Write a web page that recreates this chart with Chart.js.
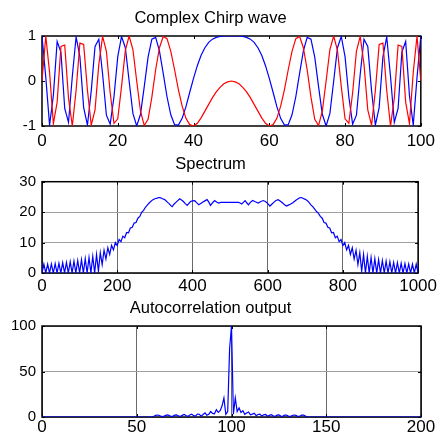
<!DOCTYPE html>
<html>
<head>
<meta charset="utf-8">
<script src="https://cdn.jsdelivr.net/npm/chart.js@4.4.1/dist/chart.umd.min.js"></script>
<style>
  html, body { margin: 0; padding: 0; background: #fff; }
  #wrap { position: relative; width: 440px; height: 438px; overflow: hidden; }
  .panel { position: absolute; left: 0; width: 440px; height: 146px; }
</style>
</head>
<body>
<div id="wrap">
  <div class="panel" style="top:0"><canvas id="chirp-chart" width="440" height="146"></canvas></div>
  <div class="panel" style="top:146px"><canvas id="spectrum-chart" width="440" height="146"></canvas></div>
  <div class="panel" style="top:292px"><canvas id="autocorr-chart" width="440" height="146"></canvas></div>
</div>
<script>
// --- data --------------------------------------------------------------

// chirp, one sample per unit, t = 0..100
const chirpReal = [
  1.00, 0.08, -0.98, -0.32, 0.88, 0.64, -0.61, -0.92, 0.10, 0.98,
  0.54, -0.59, -0.98, -0.22, 0.77, 0.93, 0.15, -0.76, -0.96, -0.35,
  0.54, 0.99, 0.74, 0.00, -0.72, -1.00, -0.74, -0.12, 0.53, 0.93,
  0.97, 0.67, 0.17, -0.35, -0.75, -0.97, -0.98, -0.83, -0.57, -0.25,
  0.06, 0.34, 0.57, 0.74, 0.86, 0.93, 0.97, 0.99, 1.00, 1.00,
  1.00,
  1.00, 1.00, 0.99, 0.97, 0.93, 0.86, 0.74, 0.57, 0.34, 0.06,
  -0.25, -0.57, -0.83, -0.98, -0.97, -0.75, -0.35, 0.17, 0.67, 0.97,
  0.93, 0.53, -0.12, -0.74, -1.00, -0.72, 0.00, 0.74, 0.99, 0.54,
  -0.35, -0.96, -0.76, 0.15, 0.93, 0.77, -0.22, -0.98, -0.59, 0.54,
  0.98, 0.10, -0.92, -0.61, 0.64, 0.88, -0.32, -0.98, 0.08, 1.00,
];
const chirpImag = [
  0.00, 1.00, 0.19, -0.95, -0.47, 0.77, 0.80, -0.38, -1.00, -0.21,
  0.84, 0.81, -0.21, -0.98, -0.64, 0.37, 0.99, 0.66, -0.26, -0.94,
  -0.84, -0.12, 0.68, 1.00, 0.70, 0.00, -0.67, -0.99, -0.85, -0.36,
  0.25, 0.74, 0.99, 0.94, 0.66, 0.25, -0.19, -0.56, -0.83, -0.97,
  -1.00, -0.94, -0.82, -0.67, -0.52, -0.37, -0.24, -0.14, -0.06, -0.02,
  0.00,
  -0.02, -0.06, -0.14, -0.24, -0.37, -0.52, -0.67, -0.82, -0.94, -1.00,
  -0.97, -0.83, -0.56, -0.19, 0.25, 0.66, 0.94, 0.99, 0.74, 0.25,
  -0.36, -0.85, -0.99, -0.67, 0.00, 0.70, 1.00, 0.68, -0.12, -0.84,
  -0.94, -0.26, 0.66, 0.99, 0.37, -0.64, -0.98, -0.21, 0.81, 0.84,
  -0.21, -1.00, -0.38, 0.80, 0.77, -0.47, -0.95, 0.19, 1.00, 0.00,
];

// spectrum magnitude (x = frequency bin)
const specX = [
  0, 5, 10, 15, 20, 25, 30, 35, 40, 45, 50, 55, 60, 65, 70, 75, 80, 85, 90, 95,
  100, 105, 110, 115, 120, 125, 130, 135, 140, 145, 150, 155, 160, 165, 170, 175, 180, 185, 190, 195,
  200, 205, 210, 215, 220, 225, 230, 235, 240, 245, 250, 255, 260, 265, 270, 275, 280, 285, 290, 295,
  300, 306, 311, 316, 320, 325, 329, 334, 338, 342, 346, 351, 356, 361, 366, 371, 376, 381, 386, 390,
  395, 400, 406, 411, 417, 422, 428, 433, 439, 444, 448, 453, 459, 464, 470, 475, 480, 490, 500, 510,
  522, 527, 531, 536, 540, 545, 549, 554, 560, 567, 575, 582, 588, 594, 600, 606, 611, 617, 622, 628,
  634, 640, 645, 650, 655, 660, 666, 671, 676, 681, 685, 690, 695, 700,
  705, 710, 715, 720, 725, 730, 735, 740, 745, 750, 755, 760, 765, 770, 775, 780, 785, 790, 795,
  800, 805, 810, 815, 820, 825, 830, 835, 840, 845, 850, 855, 860, 865, 870, 875, 880, 885, 890, 895,
  900, 905, 910, 915, 920, 925, 930, 935, 940, 945, 950, 955, 960, 965, 970, 975, 980, 985, 990, 995, 1000,
];
const specY = [
  0.0, 2.9, 0.0, 2.9, 0.0, 3.0, 0.0, 3.1, 0.0, 3.2, 0.0, 3.4, 0.0, 3.5, 0.0, 3.7, 0.0, 3.9, 0.0, 4.1,
  0.0, 4.4, 0.0, 4.7, 0.0, 5.1, 0.0, 5.5, 0.0, 6.1, 0.6, 6.7, 2.8, 7.5, 4.6, 8.3, 6.1, 9.1, 7.6, 10.0,
  9.0, 11.0, 10.3, 12.1, 11.6, 13.3, 13.2, 14.8, 15.0, 16.4, 16.6, 18.0, 18.6, 19.9, 20.6, 21.6, 22.3, 23.0, 23.6, 24.1,
  24.4, 24.6, 24.8, 24.7, 24.4, 24.2, 23.8, 23.2, 22.8, 22.2, 21.8, 22.6, 23.2, 23.8, 24.4, 24.0, 23.5, 22.8, 22.2, 22.8,
  23.5, 23.7, 23.8, 23.1, 22.4, 22.8, 23.3, 23.7, 24.1, 23.2, 22.2, 23.0, 23.8, 23.3, 23.0, 23.2, 23.2, 23.2, 23.2, 23.2,
  23.2, 23.0, 22.7, 23.3, 23.8, 23.0, 22.4, 23.2, 23.8, 23.4, 23.0, 23.5, 23.8, 23.5, 22.9, 22.0, 22.6, 23.3, 23.8, 24.1,
  23.6, 23.0, 22.4, 22.0, 22.3, 22.6, 23.0, 23.5, 24.0, 24.4, 24.7, 24.8, 24.5, 24.2,
  23.8, 23.2, 22.4, 21.8, 21.0, 20.2, 19.6, 18.6, 18.0, 16.6, 16.4, 15.0, 14.8, 13.2, 13.3, 11.6, 12.1, 10.3, 11.0,
  9.0, 10.0, 7.6, 9.1, 6.1, 8.3, 4.6, 7.5, 2.8, 6.7, 0.6, 6.1, 0.0, 5.5, 0.0, 5.1, 0.0, 4.7, 0.0, 4.4,
  0.0, 4.1, 0.0, 3.9, 0.0, 3.7, 0.0, 3.5, 0.0, 3.4, 0.0, 3.2, 0.0, 3.1, 0.0, 3.0, 0.0, 2.9, 0.0, 2.9, 0.0,
];

// autocorrelation output (x = lag index)
const acX = [
  0, 57, 58, 59, 60, 61, 62, 63, 64, 65, 66, 67, 68, 69, 70, 71, 72, 73, 74, 75, 76, 77, 78, 79,
  80, 81, 82, 83, 84, 85, 86, 87, 88, 89, 90, 91, 92, 93, 94, 95, 96, 97, 98, 99,
  100, 101, 102, 103, 104, 105, 106, 107, 108, 109, 110, 111, 112, 113, 114, 115, 116, 117, 118, 119,
  120, 121, 122, 123, 124, 125, 126, 127, 128, 129, 130, 131, 132, 133, 134, 135, 136, 137, 138, 139,
  140, 141, 200,
];
const acY = [
  0, 0, 0.3, 0.8, 1.8, 2.2, 1.6, 0.6, 0.4, 1.5, 2.3, 1.8, 0.6, 0.7, 2.0, 2.4, 1.2, 0.5, 1.8, 2.8, 1.6, 0.6, 2.2, 3.2,
  1.5, 1.0, 3.2, 3.0, 1.0, 2.8, 4.5, 2.0, 3.0, 6.0, 4.0, 3.5, 8.0, 5.0, 7.0, 12.0, 21.0, 3.0, 6.0, 75.0,
  100.0, 3.0, 21.0, 6.0, 10.0, 5.0, 7.0, 3.0, 4.5, 5.5, 2.5, 3.2, 4.2, 1.5, 2.8, 3.2, 1.0, 2.4, 2.8, 0.8,
  1.8, 2.6, 1.4, 0.6, 2.0, 2.4, 1.0, 0.8, 2.0, 2.2, 1.0, 0.5, 1.6, 2.2, 1.8, 0.6, 0.8, 2.0, 2.0, 1.0,
  0.3, 0, 0,
];

// --- chart wiring -------------------------------------------------------

const FONT = "'Liberation Sans', Arial, sans-serif";
const BLUE = "#0000ff";
const RED = "#ff0000";

// MATLAB style: closed black box with small inward ticks on all sides
const boxPlugin = {
  id: "box",
  beforeDatasetsDraw(chart) {
    const { ctx, chartArea: a, scales } = chart;
    const tl = 3;
    ctx.save();
    ctx.strokeStyle = "#000";
    ctx.lineWidth = 1;
    ctx.beginPath();
    scales.x.ticks.forEach((t) => {
      const px = Math.round(scales.x.getPixelForValue(t.value)) + 0.5;
      ctx.moveTo(px, a.top); ctx.lineTo(px, a.top + tl);
      ctx.moveTo(px, a.bottom); ctx.lineTo(px, a.bottom - tl);
    });
    scales.y.ticks.forEach((t) => {
      const py = Math.round(scales.y.getPixelForValue(t.value)) + 0.5;
      ctx.moveTo(a.left, py); ctx.lineTo(a.left + tl, py);
      ctx.moveTo(a.right, py); ctx.lineTo(a.right - tl, py);
    });
    ctx.stroke();
    ctx.lineWidth = 1.5;
    ctx.strokeRect(a.left, a.top, a.right - a.left, a.bottom - a.top);
    ctx.restore();
  },
};

// plain numbers, no thousands separator ("1000", not "1,000")
const plainTick = (v) => String(v);

function panelOptions({ title, titlePad, xMin, xMax, xStep, yMin, yMax, yStep, grid, xHeight, xPad }) {
  return {
    responsive: false,
    animation: false,
    events: [],
    layout: { padding: { left: 0, right: 19, top: 0, bottom: 0 } },
    plugins: {
      legend: { display: false },
      tooltip: { enabled: false },
      title: {
        display: true,
        text: title,
        color: "#000",
        font: { family: FONT, size: 16.5, weight: "normal", lineHeight: 1.2 },
        padding: titlePad,
      },
    },
    scales: {
      x: {
        type: "linear",
        min: xMin,
        max: xMax,
        ticks: { stepSize: xStep, color: "#000", font: { family: FONT, size: 17 }, padding: xPad, maxRotation: 0, autoSkip: false, callback: plainTick },
        grid: { display: grid, drawTicks: false, color: "#6a6a6a", lineWidth: 1 },
        border: { display: false },
        afterFit: (s) => { s.height = xHeight; },
      },
      y: {
        type: "linear",
        min: yMin,
        max: yMax,
        ticks: { stepSize: yStep, color: "#000", font: { family: FONT, size: 15 }, padding: 6, callback: plainTick },
        grid: { display: grid, drawTicks: false, color: "#a0a0a0", lineWidth: 1 },
        border: { display: false },
        afterFit: (s) => { s.width = 42; },
      },
    },
  };
}

function lineSet(points, color) {
  return {
    data: points,
    borderColor: color,
    borderWidth: 1.2,
    pointRadius: 0,
    tension: 0,
    fill: false,
  };
}

new Chart(document.getElementById("chirp-chart"), {
  type: "line",
  data: {
    datasets: [
      lineSet(chirpImag.map((v, i) => ({ x: i, y: v })), RED),
      lineSet(chirpReal.map((v, i) => ({ x: i, y: v })), BLUE),
    ],
  },
  options: panelOptions({
    title: "Complex Chirp wave",
    titlePad: { top: 8.8, bottom: 7.4 },
    xMin: 0, xMax: 100, xStep: 20,
    yMin: -1, yMax: 1, yStep: 1,
    grid: false, xHeight: 20, xPad: 5,
  }),
  plugins: [boxPlugin],
});

new Chart(document.getElementById("spectrum-chart"), {
  type: "line",
  data: { datasets: [lineSet(specX.map((x, i) => ({ x, y: specY[i] })), BLUE)] },
  options: panelOptions({
    title: "Spectrum",
    titlePad: { top: 8.1, bottom: 7.8 },
    xMin: 0, xMax: 1000, xStep: 200,
    yMin: 0, yMax: 30, yStep: 10,
    grid: true, xHeight: 19, xPad: 3,
  }),
  plugins: [boxPlugin],
});

new Chart(document.getElementById("autocorr-chart"), {
  type: "line",
  data: { datasets: [lineSet(acX.map((x, i) => ({ x, y: acY[i] })), BLUE)] },
  options: panelOptions({
    title: "Autocorrelation output",
    titlePad: { top: 6.8, bottom: 7.4 },
    xMin: 0, xMax: 200, xStep: 50,
    yMin: 0, yMax: 100, yStep: 50,
    grid: true, xHeight: 21, xPad: 0,
  }),
  plugins: [boxPlugin],
});
</script>
</body>
</html>
